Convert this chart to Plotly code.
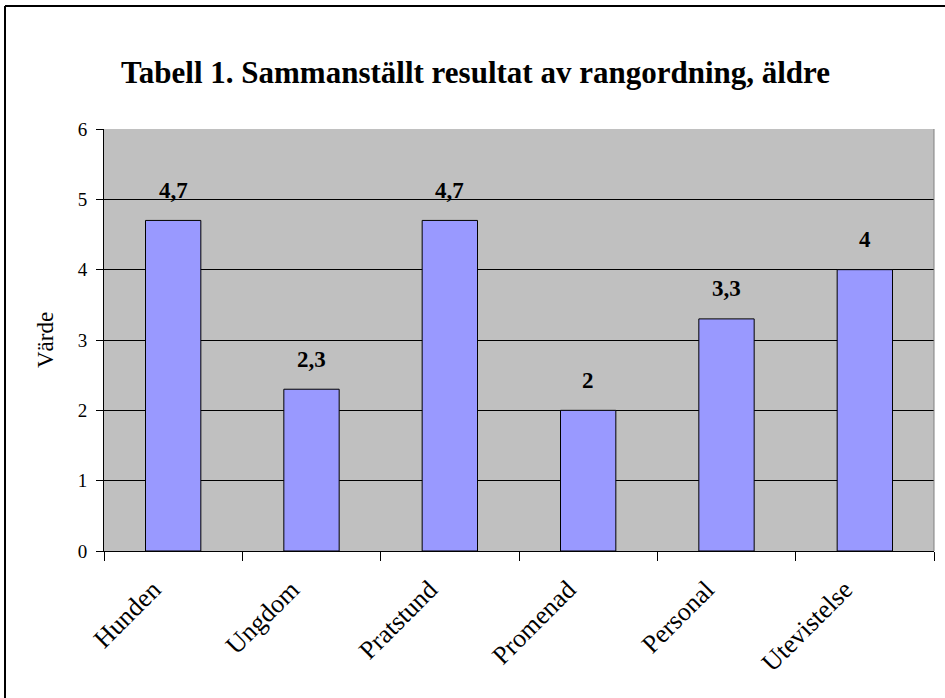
import plotly.graph_objects as go

categories = ["Hunden", "Ungdom", "Pratstund", "Promenad", "Personal", "Utevistelse"]
values = [4.7, 2.3, 4.7, 2.0, 3.3, 4.0]
y_ticks = [0, 1, 2, 3, 4, 5, 6]
title_text = "Tabell 1. Sammanställt resultat av rangordning, äldre"
y_title = "Värde"

serif = "Liberation Serif, Times New Roman, serif"

fig = go.Figure()
fig.add_trace(go.Bar(
    x=categories, y=values,
    marker=dict(color="#9999FF", line=dict(color="black", width=1)),
    width=0.4,
    hoverinfo="skip",
))

W, H = 945, 698
L, R, T, B = 104, 11, 129, 147
pw, ph = W - L - R, H - T - B

annotations = []
for c, v in zip(categories, values):
    annotations.append(dict(
        x=c, y=v, xref="x", yref="y",
        text="<b>" + f"{v:g}".replace(".", ",") + "</b>",
        showarrow=False, yshift=30,
        font=dict(family=serif, size=23, color="black"),
    ))
annotations.append(dict(
    x=(475 - L) / pw, y=(H - B - 73) / ph, xref="paper", yref="paper",
    text="<b>" + title_text + "</b>", showarrow=False,
    xanchor="center", yanchor="middle",
    font=dict(family=serif, size=31, color="black"),
))
annotations.append(dict(
    x=(45 - L) / pw, y=(H - B - 340) / ph, xref="paper", yref="paper",
    text=y_title, showarrow=False, textangle=-90,
    xanchor="center", yanchor="middle",
    font=dict(family=serif, size=23, color="black"),
))

shapes = [
    dict(type="line", xref="paper", yref="paper",
         x0=(5 - L) / pw, x1=(W + 5 - L) / pw, y0=(H - B - 6) / ph, y1=(H - B - 6) / ph,
         line=dict(color="black", width=2)),
    dict(type="line", xref="paper", yref="paper",
         x0=(5 - L) / pw, x1=(5 - L) / pw, y0=(H - B - 6) / ph, y1=-(B + 5) / ph,
         line=dict(color="black", width=2)),
    dict(type="line", xref="paper", yref="paper",
         x0=1, x1=1, y0=0, y1=1,
         line=dict(color="#808080", width=1)),
]

fig.update_layout(
    width=W, height=H,
    margin=dict(l=L, r=R, t=T, b=B, pad=0),
    paper_bgcolor="white",
    plot_bgcolor="#C0C0C0",
    showlegend=False,
    annotations=annotations,
    shapes=shapes,
    font=dict(family=serif, color="black"),
    xaxis=dict(
        type="category",
        tickson="boundaries",
        ticks="outside", ticklen=9, tickcolor="black", tickwidth=1,
        showline=True, linecolor="black", linewidth=1,
        showgrid=False,
        tickangle=-45,
        ticklabelstandoff=12,
        ticklabelshift=-20,
        tickfont=dict(family=serif, size=26, color="black"),
        range=[-0.5, 5.5],
    ),
    yaxis=dict(
        range=[0, 6],
        tickvals=y_ticks,
        ticks="outside", ticklen=7, tickcolor="black", tickwidth=1,
        showline=True, linecolor="black", linewidth=1,
        showgrid=True, gridcolor="black", gridwidth=1,
        zeroline=False,
        ticklabelstandoff=5,
        tickfont=dict(family=serif, size=19, color="black"),
    ),
)

fig.write_html("out.html", config={"displayModeBar": False},
               post_script="document.body.style.margin='0';document.body.style.overflow='hidden';")
